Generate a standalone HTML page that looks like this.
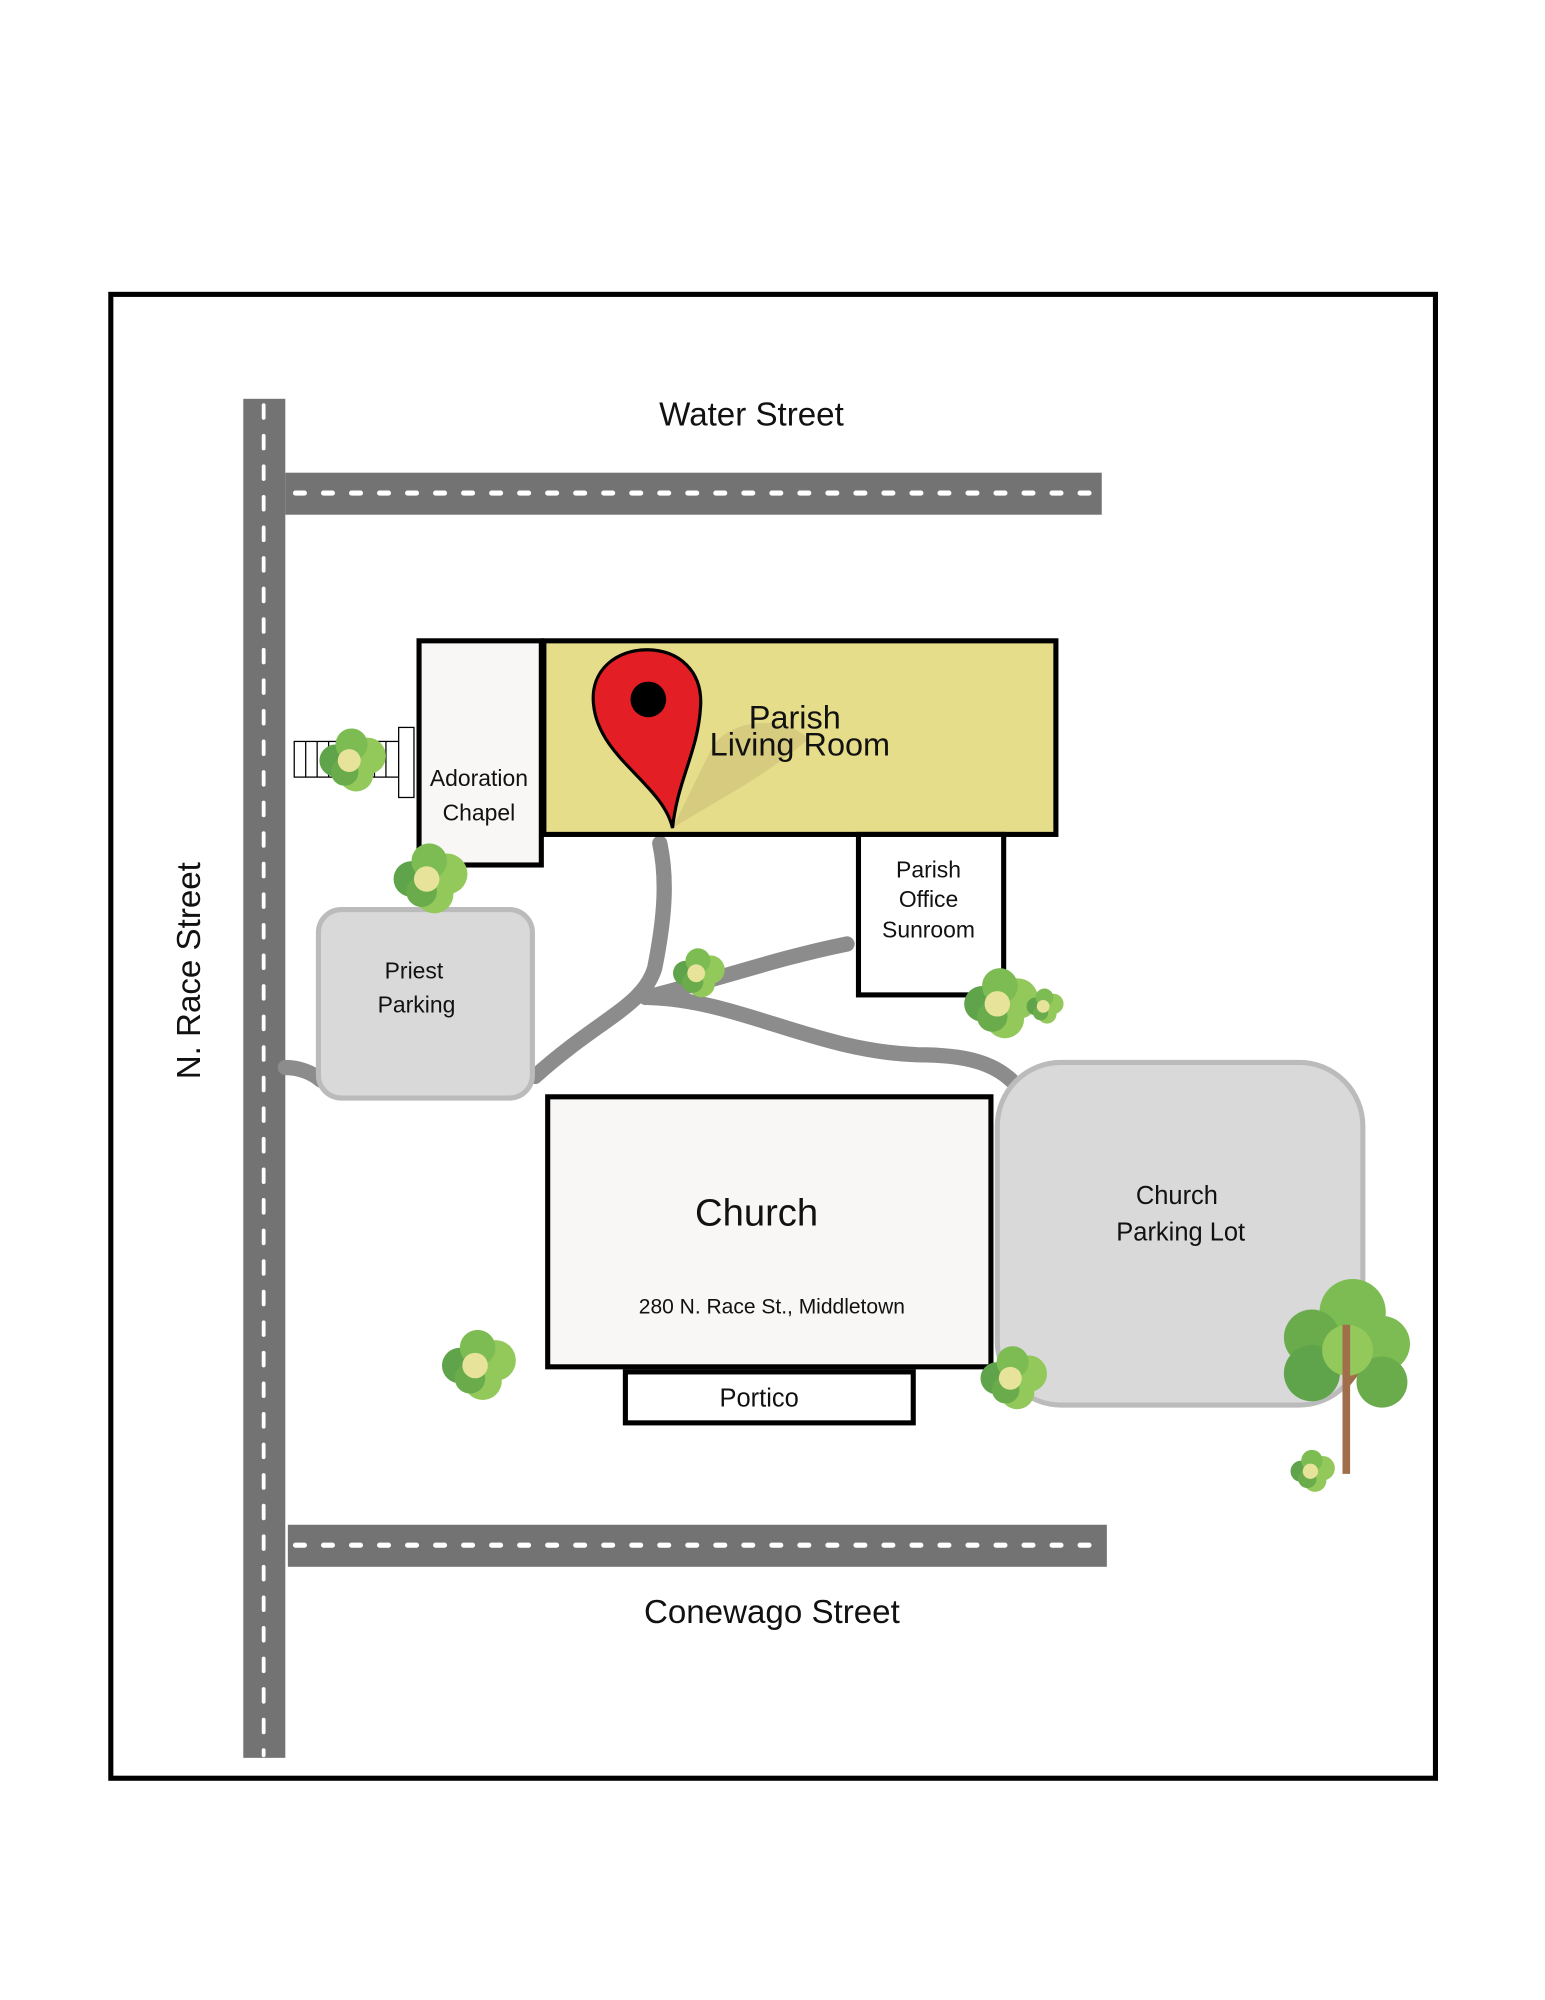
<!DOCTYPE html>
<html><head><meta charset="utf-8"><style>html,body{margin:0;padding:0;background:#fff}svg{display:block}text{font-family:"Liberation Sans",sans-serif;fill:#111}</style></head><body>
<svg width="1545" height="2000" viewBox="0 0 1213 1570" xmlns="http://www.w3.org/2000/svg">
<rect x="0" y="0" width="1213" height="1570" fill="#fff"/>
<rect x="87" y="231" width="1040" height="1165" fill="none" stroke="#000" stroke-width="4"/>
<!-- roads -->
<rect x="191" y="313" width="33" height="1067" fill="#737373"/>
<line x1="207" y1="318" x2="207" y2="1378" stroke="#fff" stroke-width="3" stroke-dasharray="10,14" stroke-linecap="round"/>
<rect x="224" y="371" width="641" height="33" fill="#737373"/>
<line x1="232" y1="387" x2="860" y2="387" stroke="#fff" stroke-width="4" stroke-dasharray="7,15" stroke-linecap="round"/>
<rect x="226" y="1197" width="643" height="33" fill="#737373"/>
<line x1="232" y1="1213" x2="864" y2="1213" stroke="#fff" stroke-width="4" stroke-dasharray="7,15" stroke-linecap="round"/>
<text x="590" y="334" font-size="26" text-anchor="middle">Water Street</text>
<text x="606" y="1274" font-size="26" text-anchor="middle">Conewago Street</text>
<text transform="translate(157,762) rotate(-90)" font-size="26" text-anchor="middle">N. Race Street</text>
<!-- paths -->
<g fill="none" stroke="#8c8c8c" stroke-width="12" stroke-linecap="round" stroke-linejoin="round">
<path d="M518 662 C524 690 522 720 514 760 C505 790 470 800 420 845"/>
<path d="M507 783 C560 770 610 752 665 741"/>
<path d="M510 783 C580 785 640 825 720 828 C760 828 780 835 794 848"/>
<path d="M224 838 C235 838 245 842 252 848"/>
</g>
<!-- priest parking -->
<rect x="250" y="714" width="168" height="148" rx="18" fill="#d9d9d9" stroke="#bbb" stroke-width="4"/>
<text x="325" y="768" font-size="18" text-anchor="middle">Priest</text>
<text x="327" y="795" font-size="18" text-anchor="middle">Parking</text>
<!-- church parking -->
<rect x="783" y="834" width="287" height="269" rx="50" fill="#d9d9d9" stroke="#bbb" stroke-width="4"/>
<text x="924" y="945" font-size="20" text-anchor="middle">Church</text>
<text x="927" y="974" font-size="20" text-anchor="middle">Parking Lot</text>
<!-- chapel -->
<rect x="329" y="503" width="96" height="176" fill="#f8f7f5" stroke="#000" stroke-width="4"/>
<text x="376" y="617" font-size="18" text-anchor="middle">Adoration</text>
<text x="376" y="644" font-size="18" text-anchor="middle">Chapel</text>
<!-- living room -->
<rect x="427" y="503" width="402" height="152" fill="#e6dd8a" stroke="#000" stroke-width="4"/>
<path d="M528 650 L560 585 C580 560 620 565 635 580 C600 610 560 630 528 650Z" fill="#d4c97c" opacity="0.9"/>
<text x="624" y="572" font-size="25.5" text-anchor="middle">Parish</text>
<text x="628" y="593" font-size="25.5" text-anchor="middle">Living Room</text>
<path d="M528 650 C520 615 470 595 466 553 C463 525 485 510 508 510 C533 510 552 527 550 555 C548 590 532 612 528 650Z" fill="#e31e24" stroke="#000" stroke-width="2.5"/>
<circle cx="509" cy="549" r="14" fill="#000"/>
<!-- sunroom -->
<rect x="674" y="655" width="114" height="126" fill="#fff" stroke="#000" stroke-width="4"/>
<text x="729" y="689" font-size="18" text-anchor="middle">Parish</text>
<text x="729" y="712" font-size="18" text-anchor="middle">Office</text>
<text x="729" y="736" font-size="18" text-anchor="middle">Sunroom</text>
<!-- church -->
<rect x="430" y="861" width="348" height="212" fill="#f8f7f5" stroke="#000" stroke-width="4"/>
<text x="594" y="962" font-size="30" text-anchor="middle">Church</text>
<text x="606" y="1031" font-size="16.5" text-anchor="middle">280 N. Race St., Middletown</text>
<rect x="491" y="1077" width="226" height="40" fill="#fff" stroke="#000" stroke-width="4"/>
<text x="596" y="1104" font-size="20" text-anchor="middle">Portico</text>
<!-- steps -->
<rect x="231" y="582" width="82" height="28" fill="#fff" stroke="#000" stroke-width="1"/>
<g stroke="#000" stroke-width="1"><line x1="240" y1="582" x2="240" y2="610"/><line x1="249" y1="582" x2="249" y2="610"/><line x1="258" y1="582" x2="258" y2="610"/><line x1="267" y1="582" x2="267" y2="610"/><line x1="276" y1="582" x2="276" y2="610"/><line x1="285" y1="582" x2="285" y2="610"/><line x1="294" y1="582" x2="294" y2="610"/><line x1="303" y1="582" x2="303" y2="610"/></g>
<rect x="313" y="571" width="12" height="55" fill="#fff" stroke="#000" stroke-width="1"/>
<!-- bushes -->
<defs><g id="b"><circle cx="-14" cy="0" r="14" fill="#5fa34a"/><circle cx="14" cy="-4" r="16" fill="#93c85a"/><circle cx="0" cy="-14" r="14" fill="#7cbc52"/><circle cx="4" cy="12" r="15" fill="#93c85a"/><circle cx="-6" cy="10" r="12" fill="#6aac4c"/><circle cx="-2" cy="0" r="10" fill="#e7e39a"/></g></defs>
<use href="#b" transform="translate(276,597) scale(0.9)"/>
<use href="#b" transform="translate(337,690)"/>
<use href="#b" transform="translate(548,764) scale(0.7)"/>
<use href="#b" transform="translate(785,788)"/>
<use href="#b" transform="translate(820,790) scale(0.5)"/>
<use href="#b" transform="translate(375,1072)"/>
<use href="#b" transform="translate(795,1082) scale(0.9)"/>
<use href="#b" transform="translate(1030,1155) scale(0.6)"/>
<!-- tree -->
<path d="M1055 1080 L1075 1060 L1078 1065 L1058 1090Z" fill="#a06e4b"/>
<circle cx="1062" cy="1030" r="26" fill="#7cbc52"/>
<circle cx="1030" cy="1050" r="22" fill="#6aac4c"/>
<circle cx="1085" cy="1055" r="22" fill="#7cbc52"/>
<circle cx="1030" cy="1078" r="22" fill="#5fa34a"/>
<circle cx="1085" cy="1085" r="20" fill="#6aac4c"/>
<circle cx="1058" cy="1060" r="20" fill="#93c85a"/>
<path d="M1054 1157 L1054 1040 L1060 1040 L1060 1157Z" fill="#a06e4b"/>
</svg>
</body></html>
